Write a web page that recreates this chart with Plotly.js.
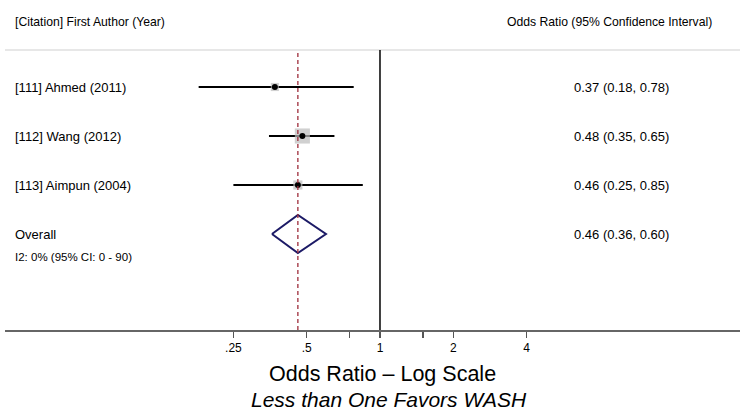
<!DOCTYPE html>
<html>
<head>
<meta charset="utf-8">
<script src="https://cdn.plot.ly/plotly-3.0.1.min.js"></script>
<style>html,body{margin:0;padding:0;background:#fff;}#chart{width:745px;height:419px;}</style>
</head>
<body>
<div id="chart"></div>
<script>
// ---- data ----
var studies = ["[111] Ahmed (2011)", "[112] Wang (2012)", "[113] Aimpun (2004)"];
var orVals = [0.37, 0.48, 0.46];
var ciLow = [0.18, 0.35, 0.25];
var ciHigh = [0.78, 0.65, 0.85];
var weights = [12.4, 69.7, 17.9];   // percent weight (estimated)
var overallLabel = "Overall";
var overallOR = 0.46;
var overallLow = 0.36;
var overallHigh = 0.60;
var heterogeneity = "I2: 0% (95% CI: 0 - 90)";
var tickVals = [0.25, 0.5, 0.75, 1, 1.5, 2, 4];
var tickText = [".25", ".5", "", "1", "", "2", "4"];
var headerLeft = "[Citation] First Author (Year)";
var headerRight = "Odds Ratio (95% Confidence Interval)";
var axisTitle1 = "Odds Ratio \u2013 Log Scale";
var axisTitle2 = "Less than One Favors WASH";

// ---- build ----
var FONT = "Liberation Sans, Arial, Helvetica, sans-serif";
var n = studies.length;
var rows = studies.map(function (_, i) { return n + 1 - i; }); // 4,3,2
var overallRow = 1;

var fmt = function (v) { return v.toFixed(2); };
var ciText = function (o, l, h) { return fmt(o) + " (" + fmt(l) + ", " + fmt(h) + ")"; };

// CI lines
var lx = [], ly = [];
for (var i = 0; i < n; i++) {
  lx.push(ciLow[i], ciHigh[i], null);
  ly.push(rows[i], rows[i], null);
}
var ciTrace = {
  x: lx, y: ly, mode: "lines", type: "scatter",
  line: { color: "#000", width: 2 }, hoverinfo: "skip", showlegend: false
};
var sqTrace = {
  x: orVals, y: rows, mode: "markers", type: "scatter",
  marker: { symbol: "square", color: "#bcbcbc", size: weights.map(function (w) { return 3 + 1.45 * Math.sqrt(w); }), line: { width: 0 } },
  hoverinfo: "skip", showlegend: false
};
var dotTrace = {
  x: orVals, y: rows, mode: "markers", type: "scatter",
  marker: { symbol: "circle", color: "#000", size: 6 },
  hoverinfo: "skip", showlegend: false
};
var dh = 0.39;
var diamond = {
  x: [overallLow, overallOR, overallHigh, overallOR, overallLow],
  y: [overallRow, overallRow + dh, overallRow, overallRow - dh, overallRow],
  mode: "lines", type: "scatter",
  line: { color: "#1c1a66", width: 2 }, hoverinfo: "skip", showlegend: false
};

var L = 5, R = 5, W = 745;
var plotW = W - L - R;
var px2paper = function (p) { return (p - L) / plotW; };
var T = 50, B = 89, H = 419;
var plotH = H - T - B;
var py2paper = function (p) { return (H - B - p) / plotH; };

var annotations = [];
for (var j = 0; j < n; j++) {
  annotations.push({ xref: "paper", yref: "y", x: px2paper(13), y: rows[j], xanchor: "left", yanchor: "middle",
    text: studies[j], showarrow: false, font: { family: FONT, size: 13, color: "#000" } });
  annotations.push({ xref: "paper", yref: "y", x: px2paper(572), y: rows[j], xanchor: "left", yanchor: "middle",
    text: ciText(orVals[j], ciLow[j], ciHigh[j]), showarrow: false, font: { family: FONT, size: 13, color: "#000" } });
}
annotations.push({ xref: "paper", yref: "y", x: px2paper(13), y: overallRow, xanchor: "left", yanchor: "middle",
  text: overallLabel, showarrow: false, font: { family: FONT, size: 13, color: "#000" } });
annotations.push({ xref: "paper", yref: "y", x: px2paper(572), y: overallRow, xanchor: "left", yanchor: "middle",
  text: ciText(overallOR, overallLow, overallHigh), showarrow: false, font: { family: FONT, size: 13, color: "#000" } });
annotations.push({ xref: "paper", yref: "y", x: px2paper(13), y: overallRow - 0.47, xanchor: "left", yanchor: "middle",
  text: heterogeneity, showarrow: false, font: { family: FONT, size: 11.5, color: "#000" } });
annotations.push({ xref: "paper", yref: "paper", x: px2paper(13), y: py2paper(22), xanchor: "left", yanchor: "middle",
  text: headerLeft, showarrow: false, font: { family: FONT, size: 12.2, color: "#000" } });
annotations.push({ xref: "paper", yref: "paper", x: px2paper(714), y: py2paper(22), xanchor: "right", yanchor: "middle",
  text: headerRight, showarrow: false, font: { family: FONT, size: 12.2, color: "#000" } });
annotations.push({ xref: "paper", yref: "paper", x: px2paper(383), y: py2paper(374), xanchor: "center", yanchor: "middle",
  text: axisTitle1, showarrow: false, font: { family: FONT, size: 21.5, color: "#000" } });
annotations.push({ xref: "paper", yref: "paper", x: px2paper(389), y: py2paper(399), xanchor: "center", yanchor: "middle",
  text: "<i>" + axisTitle2 + "</i>", showarrow: false, font: { family: FONT, size: 21, color: "#000" } });

var shapes = [
  { type: "line", xref: "paper", yref: "paper", x0: 0, x1: 1, y0: 1, y1: 1, line: { color: "#cfcfcf", width: 1 } },
  { type: "line", xref: "x", yref: "paper", x0: 1, x1: 1, y0: 0, y1: 1, line: { color: "#000", width: 1.5 } },
  { type: "line", xref: "x", yref: "paper", x0: overallOR, x1: overallOR, y0: 0, y1: 1, line: { color: "#9e2d3b", width: 1.3, dash: "4px,3px" } }
];

var layout = {
  width: 745, height: 419,
  margin: { l: L, r: R, t: T, b: B },
  paper_bgcolor: "#fff", plot_bgcolor: "#fff",
  showlegend: false,
  xaxis: {
    type: "log", range: [-1.540, 1.4785],
    tickvals: tickVals, ticktext: tickText,
    ticks: "outside", ticklen: 6, tickwidth: 1.5, tickcolor: "#555",
    showline: true, linecolor: "#666", linewidth: 2,
    showgrid: false, zeroline: false,
    tickfont: { family: FONT, size: 12, color: "#000" },
    fixedrange: true
  },
  yaxis: {
    range: [-0.959, 4.755], showgrid: false, zeroline: false, showticklabels: false,
    showline: false, ticks: "", fixedrange: true
  },
  annotations: annotations,
  shapes: shapes
};

Plotly.newPlot("chart", [ciTrace, sqTrace, diamond, dotTrace], layout, { displayModeBar: false, staticPlot: true });
</script>
</body>
</html>
